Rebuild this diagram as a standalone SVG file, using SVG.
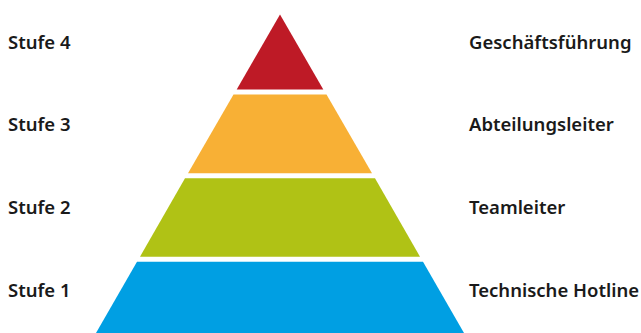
<svg xmlns="http://www.w3.org/2000/svg" width="641" height="333" viewBox="0 0 641 333">
<style>
text{font-family:"Noto Sans","Liberation Sans",Arial,sans-serif;font-size:18.5px;font-weight:600;fill:#1a1a1a}
</style>
<rect width="641" height="333" fill="#ffffff"/>
<g id="level4"><polygon points="280,14.5 323.3,89.5 236.7,89.5" fill="#be1a26"/></g>
<g id="level3"><polygon points="233.5,94.5 326.5,94.5 372,173.3 188,173.3" fill="#f8b035"/></g>
<g id="level2"><polygon points="185,178.3 375,178.3 420,256.7 140,256.7" fill="#b0c215"/></g>
<g id="level1"><polygon points="137,261.7 423,261.7 464,333 96,333" fill="#009fe3"/></g>
<g id="labels-left">
<text x="8" y="49">Stufe 4</text>
<text x="8" y="131">Stufe 3</text>
<text x="8" y="214">Stufe 2</text>
<text x="8" y="297">Stufe 1</text>
</g>
<g id="labels-right">
<text x="469" y="49">Geschäftsführung</text>
<text x="469" y="131">Abteilungsleiter</text>
<text x="469" y="214">Teamleiter</text>
<text x="469" y="297">Technische Hotline</text>
</g>
</svg>
